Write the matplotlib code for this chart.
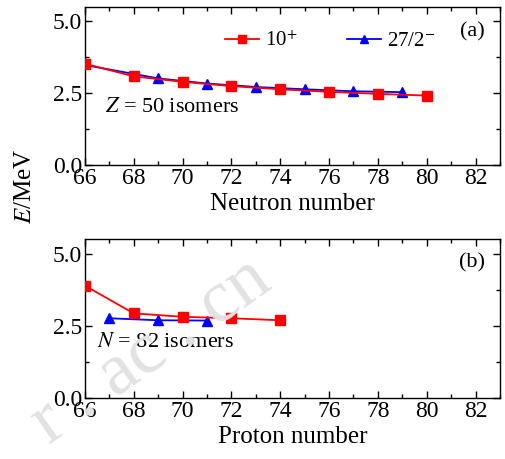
import numpy as np
import matplotlib
matplotlib.use("Agg")
from matplotlib import pyplot as plt
from matplotlib.ticker import MultipleLocator

plt.rcParams['font.family'] = ['Liberation Serif', 'DejaVu Serif']
plt.rcParams['mathtext.fontset'] = 'stix'

# (a) Z = 50
n_10 = [66, 68, 70, 72, 74, 76, 78, 80]
e_10 = [3.52, 3.08, 2.89, 2.74, 2.63, 2.54, 2.47, 2.41]
n_27 = [65, 69, 71, 73, 75, 77, 79]
e_27 = [3.63, 3.01, 2.83, 2.71, 2.63, 2.56, 2.53]

# (b) N = 82
z_10 = [66, 68, 70, 72, 74]
eb_10 = [3.89, 2.93, 2.81, 2.76, 2.69]
z_27 = [67, 69, 71]
eb_27 = [2.76, 2.69, 2.68]

xticks = [66, 68, 70, 72, 74, 76, 78, 80, 82]
yticks = [0.0, 2.5, 5.0]

fig = plt.figure(figsize=(5.05, 4.59), dpi=100)
ax1 = fig.add_axes([0.168, 0.641, 0.822, 0.344])
ax2 = fig.add_axes([0.168, 0.133, 0.822, 0.346])

def style(ax):
    ax.set_xlim(66, 83)
    ax.set_ylim(0, 5.5)
    ax.set_xticks(xticks)
    ax.set_yticks(yticks)
    ax.set_yticklabels(['%.1f' % v for v in yticks])
    ax.xaxis.set_minor_locator(MultipleLocator(1))
    ax.yaxis.set_minor_locator(MultipleLocator(1.25))
    ax.tick_params(which='both', direction='in', top=True, right=True, labelsize=17, pad=2)
    ax.tick_params(which='major', length=5, width=1)
    ax.tick_params(which='minor', length=3, width=1)
    for s in ax.spines.values():
        s.set_linewidth(1)

style(ax1)
style(ax2)

l1, = ax1.plot(n_10, e_10, color='red', marker='s', ms=7, lw=1.3, label='10$^{+}$', zorder=3)
l2, = ax1.plot(n_27, e_27, color='blue', marker='^', ms=7.5, lw=1.3, label='27/2$^{-}$', zorder=2)
ax1.legend(handles=[l1, l2], ncol=2, frameon=False, fontsize=15, loc='center left',
           bbox_to_anchor=(0.313, 0.78), borderpad=0, columnspacing=2.4,
           handlelength=1.6, handletextpad=0.3, markerscale=0.85)
ax1.text(0.964, 0.84, '(a)', transform=ax1.transAxes, fontsize=16, ha='right', va='center')
ax1.text(0.048, 0.36, '$Z$ = 50 isomers', transform=ax1.transAxes, fontsize=16, ha='left', va='center')
ax1.set_xlabel('Neutron number', fontsize=18, labelpad=3)

ax2.plot(z_10, eb_10, color='red', marker='s', ms=7, lw=1.3, zorder=3)
ax2.plot(z_27, eb_27, color='blue', marker='^', ms=7.5, lw=1.3, zorder=2)
ax2.text(0.964, 0.85, '(b)', transform=ax2.transAxes, fontsize=16, ha='right', va='center')
ax2.text(0.029, 0.35, '$N$ = 82 isomers', transform=ax2.transAxes, fontsize=16, ha='left', va='center')
ax2.set_xlabel('Proton number', fontsize=18, labelpad=3)

fig.text(0.05, 0.593, '$E$/MeV', rotation=90, fontsize=18, ha='center', va='center')

# faint watermark
fig.text(0.3, 0.235, 'r . ac . cn', rotation=35, fontsize=54, color='#e2e2e2',
         ha='center', va='center', zorder=0)

fig.savefig('out.png', dpi=100)
